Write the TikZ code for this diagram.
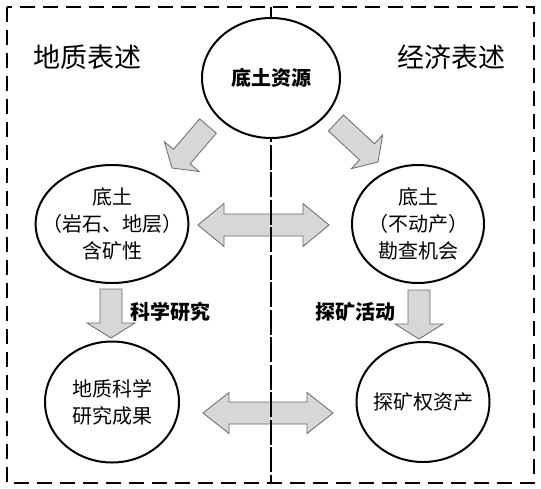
\documentclass[tikz,border=0pt]{standalone}
\usepackage{fontspec}
\newfontfamily\cjk{Noto Sans CJK SC}
\usetikzlibrary{calc,shapes.geometric}
\definecolor{arrowfill}{RGB}{215,215,215}
\definecolor{arrowline}{RGB}{105,105,105}
\newcommand{\shaftw}{11pt}
\newcommand{\singlearrow}[4]{%
  % tail, tip, head length, head half-width.
  \coordinate (#2-hb) at ($(#2)!#3!(#1)$);
  \filldraw[blockarrow] ($(#1)!\shaftw!90:(#2)$) -- ($(#2-hb)!\shaftw!90:(#2)$)
    -- ($(#2-hb)!#4!90:(#2)$) -- (#2) -- ($(#2-hb)!#4!-90:(#2)$)
    -- ($(#2-hb)!\shaftw!-90:(#2)$) -- ($(#1)!\shaftw!-90:(#2)$) -- cycle;
}
\newcommand{\doublearrow}[4]{%
  % one tip, other tip, head length, head half-width.
  \coordinate (#1-hb) at ($(#1)!#3!(#2)$);
  \coordinate (#2-hb) at ($(#2)!#3!(#1)$);
  \filldraw[blockarrow] (#1) -- ($(#1-hb)!#4!90:(#2)$) -- ($(#1-hb)!\shaftw!90:(#2)$)
    -- ($(#2-hb)!\shaftw!90:(#2)$) -- ($(#2-hb)!#4!90:(#2)$) -- (#2)
    -- ($(#2-hb)!#4!-90:(#2)$) -- ($(#2-hb)!\shaftw!-90:(#2)$)
    -- ($(#1-hb)!\shaftw!-90:(#2)$) -- ($(#1-hb)!#4!-90:(#2)$) -- cycle;
}

\begin{document}
\begin{tikzpicture}[x=1pt,y=-1pt,
  bubble/.style={draw,ellipse,line width=2pt,fill=white,inner sep=-16pt,align=center,
    font=\cjk\fontsize{20}{27}\selectfont},
  blockarrow/.style={fill=arrowfill,draw=arrowline,line width=0.8pt,line join=miter}]
  \useasboundingbox (0,0) rectangle (541,488);
  \draw[line width=2.2pt,dash pattern=on 15pt off 8pt] (7,7) rectangle (534,483);
  % arrow ends
  \foreach \n/\x/\y in {dl-tail/208/126,dl-tip/172/168,dr-tail/336/123,dr-tip/378/162,
      sl-tail/111/289,sl-tip/111/338,sr-tail/419/290,sr-tip/419/339,
      mid-l/198/225,mid-r/329/225,low-l/203/413,low-r/333/413}{%
    \coordinate (\n) at (\x,\y);
  }
  \singlearrow{dl-tail}{dl-tip}{15pt}{23pt}
  \singlearrow{dr-tail}{dr-tip}{15pt}{23pt}
  \singlearrow{sl-tail}{sl-tip}{15pt}{24pt}
  \singlearrow{sr-tail}{sr-tip}{15pt}{24pt}
  \doublearrow{mid-l}{mid-r}{26pt}{21.5pt}
  \doublearrow{low-l}{low-r}{26pt}{20.5pt}
  \coordinate (div-top) at (271,7);
  \coordinate (div-bot) at (271,483);
  \draw[line width=2pt,dash pattern=on 25pt off 2.5pt] (div-top) -- (div-bot);
  \node[bubble,minimum width=138pt,minimum height=120pt,font=\cjk\bfseries\fontsize{20}{27}\selectfont]
    (source) at (271,78) {底土资源};
  \node[bubble,minimum width=134pt,minimum height=118pt] (rock) at (112,224)
    {底土\\（岩石、地层）\\含矿性};
  \node[bubble,minimum width=132pt,minimum height=118pt] (chance) at (418,224)
    {底土\\（不动产）\\勘查机会};
  \node[bubble,minimum width=134pt,minimum height=121pt] (result) at (112,402)
    {地质科学\\研究成果};
  \node[bubble,minimum width=133pt,minimum height=120pt] (asset) at (423,402)
    {探矿权资产};
  \node[font=\cjk\fontsize{27}{27}\selectfont] (geo) at (88,57) {地质表述};
  \node[font=\cjk\fontsize{27}{27}\selectfont] (eco) at (451,57) {经济表述};
  \node[font=\cjk\bfseries\fontsize{20}{20}\selectfont] (research) at (170,312) {科学研究};
  \node[font=\cjk\bfseries\fontsize{20}{20}\selectfont] (explore) at (355,312) {探矿活动};
\end{tikzpicture}
\end{document}
